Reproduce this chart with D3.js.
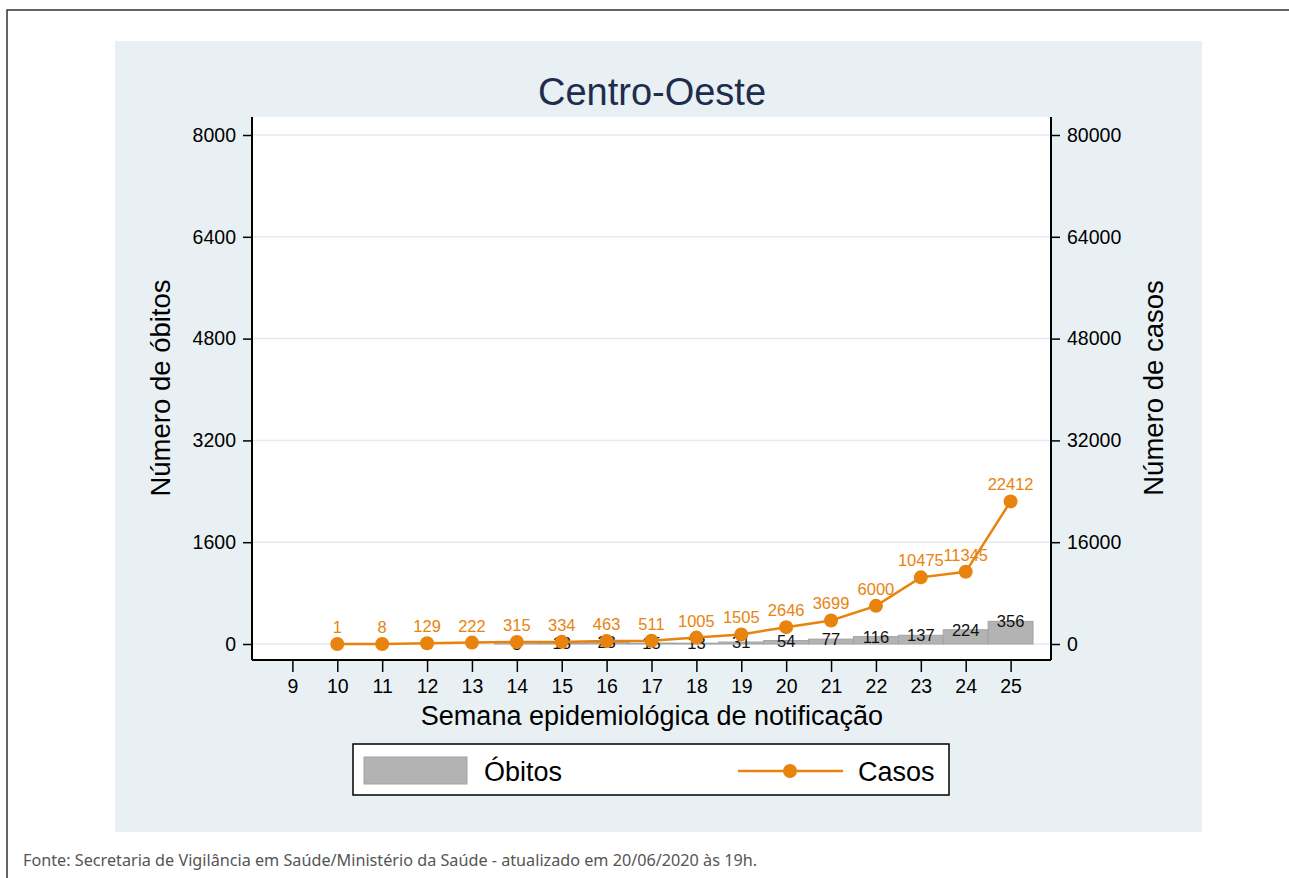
<!DOCTYPE html>
<html>
<head>
<meta charset="utf-8">
<script src="https://cdn.jsdelivr.net/npm/d3@7"></script>
<style>
  body { margin: 0; background: #fff; }
  svg { display: block; }
</style>
</head>
<body>
<div id="chart"></div>
<script>
// data
const weeks = [9, 10, 11, 12, 13, 14, 15, 16, 17, 18, 19, 20, 21, 22, 23, 24, 25];
const obitos = [null, null, null, null, null, 5, 13, 23, 15, 13, 31, 54, 77, 116, 137, 224, 356];
const casos = [null, 1, 8, 129, 222, 315, 334, 463, 511, 1005, 1505, 2646, 3699, 6000, 10475, 11345, 22412];
const leftTicks = [0, 1600, 3200, 4800, 6400, 8000];
const rightTicks = [0, 16000, 32000, 48000, 64000, 80000];

const W = 1289, H = 878;
const orange = "#e8830e";
const font = "'Liberation Sans', Arial, sans-serif";

const svg = d3.select("#chart").append("svg")
  .attr("width", W).attr("height", H);

// outer frame (top & left)
svg.append("path")
  .attr("d", `M7,${H} V10 H${W}`)
  .attr("fill", "none").attr("stroke", "#333").attr("stroke-width", 1.5);

// panel background
svg.append("rect")
  .attr("x", 115).attr("y", 41).attr("width", 1087).attr("height", 791)
  .attr("fill", "#e9f0f3");

const plot = { left: 252, right: 1051, top: 117, bottom: 660 };

svg.append("rect")
  .attr("x", plot.left).attr("y", plot.top)
  .attr("width", plot.right - plot.left).attr("height", plot.bottom - plot.top)
  .attr("fill", "#fff");

const x = d3.scaleLinear().domain([8.1, 25.9]).range([plot.left, plot.right]);
const yL = d3.scaleLinear().domain([0, 8000]).range([644, 135]);
const yR = d3.scaleLinear().domain([0, 80000]).range([644, 135]);
const step = x(10) - x(9);

// gridlines
svg.append("g").selectAll("line")
  .data(leftTicks)
  .join("line")
  .attr("x1", plot.left).attr("x2", plot.right)
  .attr("y1", d => yL(d)).attr("y2", d => yL(d))
  .attr("stroke", "#e3ebee").attr("stroke-width", 1.5);

// bars (Óbitos)
const barData = weeks.map((w, i) => ({ w, v: obitos[i] })).filter(d => d.v != null);
svg.append("g").selectAll("rect")
  .data(barData)
  .join("rect")
  .attr("x", d => x(d.w) - step / 2)
  .attr("y", d => yL(d.v))
  .attr("width", step)
  .attr("height", d => yL(0) - yL(d.v))
  .attr("fill", "#b3b3b3")
  .attr("stroke", "#a3a3a3")
  .attr("stroke-width", 1);

svg.append("g").selectAll("text")
  .data(barData)
  .join("text")
  .attr("x", d => x(d.w))
  .attr("y", d => yL(d.v))
  .attr("dy", "0.36em")
  .attr("text-anchor", "middle")
  .style("font-family", font).style("font-size", "16.5px")
  .attr("fill", "#111")
  .text(d => d.v);

// line (Casos)
const lineData = weeks.map((w, i) => ({ w, v: casos[i] })).filter(d => d.v != null);
svg.append("path")
  .datum(lineData)
  .attr("fill", "none")
  .attr("stroke", orange)
  .attr("stroke-width", 2.5)
  .attr("d", d3.line().x(d => x(d.w)).y(d => yR(d.v)));

svg.append("g").selectAll("circle")
  .data(lineData)
  .join("circle")
  .attr("cx", d => x(d.w)).attr("cy", d => yR(d.v))
  .attr("r", 7)
  .attr("fill", orange);

svg.append("g").selectAll("text")
  .data(lineData)
  .join("text")
  .attr("x", d => x(d.w))
  .attr("y", d => yR(d.v) - 17)
  .attr("dy", "0.36em")
  .attr("text-anchor", "middle")
  .style("font-family", font).style("font-size", "16.5px")
  .attr("fill", orange)
  .text(d => d.v);

// axes
function styleAxis(g) {
  g.selectAll("text").style("font-family", font).style("font-size", "19.5px").attr("fill", "#000");
  g.selectAll("line").attr("stroke", "#000").attr("stroke-width", 1.5);
  g.select(".domain").attr("stroke", "#000").attr("stroke-width", 2);
}

svg.append("g")
  .attr("transform", `translate(${plot.left},0)`)
  .call(d3.axisLeft(yL).tickValues(leftTicks).tickFormat(d3.format("d")).tickSize(9).tickPadding(7).tickSizeOuter(0))
  .call(g => g.select(".domain").attr("d", `M0,${plot.top}V${plot.bottom}`))
  .call(styleAxis);

svg.append("g")
  .attr("transform", `translate(${plot.right},0)`)
  .call(d3.axisRight(yR).tickValues(rightTicks).tickFormat(d3.format("d")).tickSize(9).tickPadding(7).tickSizeOuter(0))
  .call(g => g.select(".domain").attr("d", `M0,${plot.top}V${plot.bottom}`))
  .call(styleAxis);

svg.append("g")
  .attr("transform", `translate(0,${plot.bottom})`)
  .call(d3.axisBottom(x).tickValues(weeks).tickFormat(d3.format("d")).tickSize(12).tickPadding(7).tickSizeOuter(0))
  .call(g => g.select(".domain").attr("d", `M${plot.left},0H${plot.right}`))
  .call(styleAxis);

// titles
svg.append("text")
  .attr("x", 652).attr("y", 91).attr("dy", "0.36em")
  .attr("text-anchor", "middle")
  .style("font-family", font).style("font-size", "38px")
  .attr("fill", "#1e2d4d")
  .text("Centro-Oeste");

svg.append("text")
  .attr("x", 652).attr("y", 715).attr("dy", "0.36em")
  .attr("text-anchor", "middle")
  .style("font-family", font).style("font-size", "27px")
  .text("Semana epidemiológica de notificação");

svg.append("text")
  .attr("transform", "translate(160,388) rotate(-90)")
  .attr("dy", "0.36em")
  .attr("text-anchor", "middle")
  .style("font-family", font).style("font-size", "27.5px")
  .text("Número de óbitos");

svg.append("text")
  .attr("transform", "translate(1153,388) rotate(-90)")
  .attr("dy", "0.36em")
  .attr("text-anchor", "middle")
  .style("font-family", font).style("font-size", "27.5px")
  .text("Número de casos");

// legend
const legend = svg.append("g");
legend.append("rect")
  .attr("x", 353).attr("y", 744).attr("width", 596).attr("height", 51)
  .attr("fill", "#fff").attr("stroke", "#000").attr("stroke-width", 1.5);
legend.append("rect")
  .attr("x", 364).attr("y", 757).attr("width", 103).attr("height", 27)
  .attr("fill", "#b3b3b3").attr("stroke", "#a3a3a3");
legend.append("text")
  .attr("x", 484).attr("y", 771).attr("dy", "0.36em")
  .style("font-family", font).style("font-size", "27px")
  .text("Óbitos");
legend.append("line")
  .attr("x1", 738).attr("x2", 843).attr("y1", 771).attr("y2", 771)
  .attr("stroke", orange).attr("stroke-width", 2.5);
legend.append("circle")
  .attr("cx", 790).attr("cy", 771).attr("r", 7).attr("fill", orange);
legend.append("text")
  .attr("x", 858).attr("y", 771).attr("dy", "0.36em")
  .style("font-family", font).style("font-size", "27px")
  .text("Casos");

// source note
svg.append("text")
  .attr("x", 23).attr("y", 860).attr("dy", "0.36em")
  .style("font-family", "'Noto Sans', sans-serif").style("font-size", "16px")
  .attr("fill", "#555")
  .attr("textLength", 734).attr("lengthAdjust", "spacingAndGlyphs")
  .text("Fonte: Secretaria de Vigilância em Saúde/Ministério da Saúde - atualizado em 20/06/2020 às 19h.");
</script>
</body>
</html>
